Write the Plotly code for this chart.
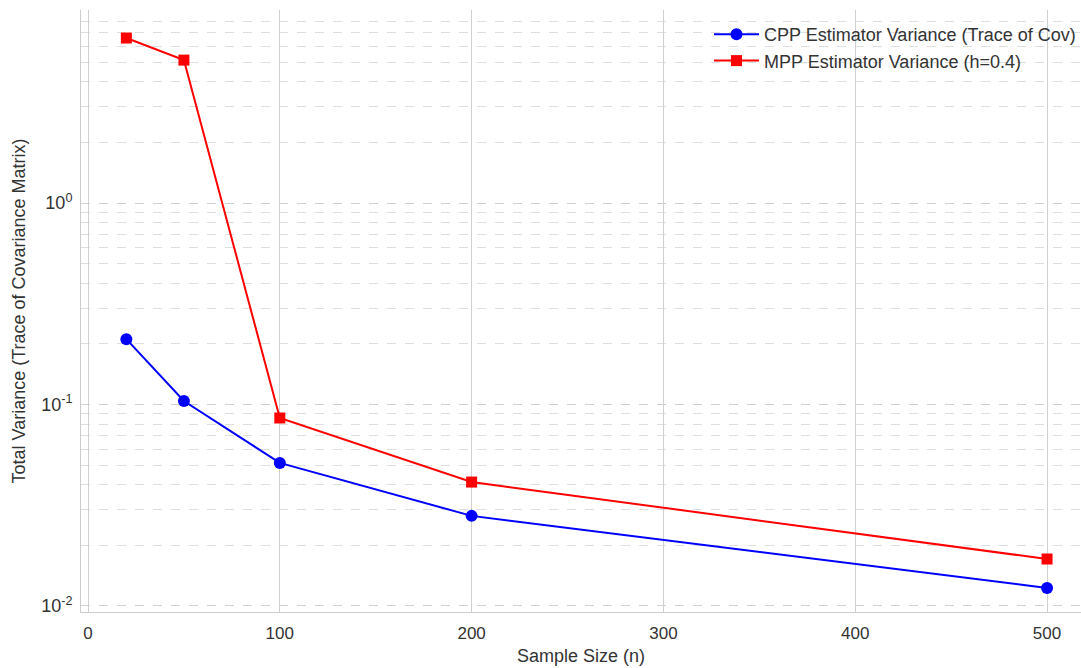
import plotly.graph_objects as go

n_values = [20, 50, 100, 200, 500]
cpp_variance = [0.211, 0.104, 0.0513, 0.0280, 0.01228]
mpp_variance = [6.59, 5.12, 0.0857, 0.0412, 0.0171]

fig = go.Figure()
fig.add_trace(go.Scatter(x=n_values, y=cpp_variance, mode="lines+markers",
                         name="CPP Estimator Variance (Trace of Cov)",
                         line=dict(color="#0000ff", width=2),
                         marker=dict(symbol="circle", size=12, color="#0000ff")))
fig.add_trace(go.Scatter(x=n_values, y=mpp_variance, mode="lines+markers",
                         name="MPP Estimator Variance (h=0.4)",
                         line=dict(color="#ff0000", width=2),
                         marker=dict(symbol="square", size=11, color="#ff0000")))

font = "Liberation Sans, Arial, sans-serif"
fig.update_layout(
    width=1081, height=668,
    margin=dict(l=81, r=0, t=10, b=56),
    plot_bgcolor="white", paper_bgcolor="white",
    font=dict(family=font, size=17, color="#333333"),
    legend=dict(x=1.0, y=0.99, xanchor="right", yanchor="top", itemwidth=45,
                tracegroupgap=4,
                bgcolor="rgba(255,255,255,0)", font=dict(size=18, color="#333333")),
    showlegend=True,
)
fig.update_xaxes(
    range=[-3.65, 517.7], tickvals=[0, 100, 200, 300, 400, 500],
    showgrid=True, gridcolor="#d0d0d0", gridwidth=1,
    zeroline=False, showline=True, linecolor="#cccccc", mirror=False,
    ticks="", ticklabelstandoff=6, tickfont=dict(size=17, color="#333333"),
    title=dict(text="Sample Size (n)", font=dict(size=18, color="#333333"), standoff=6),
)
fig.update_yaxes(
    type="log", range=[-2.030, 0.958],
    tickvals=[0.01, 0.1, 1], ticktext=["10<sup>-2</sup>", "10<sup>-1</sup>", "10<sup>0</sup>"],
    showgrid=True, gridcolor="#d0d0d0", griddash="dash", gridwidth=1,
    minor=dict(showgrid=True, gridcolor="#dedede", griddash="dash", gridwidth=1, dtick="D1"),
    zeroline=False, showline=True, linecolor="#cccccc",
    ticks="", ticklabelstandoff=4, tickfont=dict(size=18, color="#333333"),
    title=dict(text="Total Variance (Trace of Covariance Matrix)", font=dict(size=18, color="#333333"), standoff=10),
)
fig.write_html("out.html")
